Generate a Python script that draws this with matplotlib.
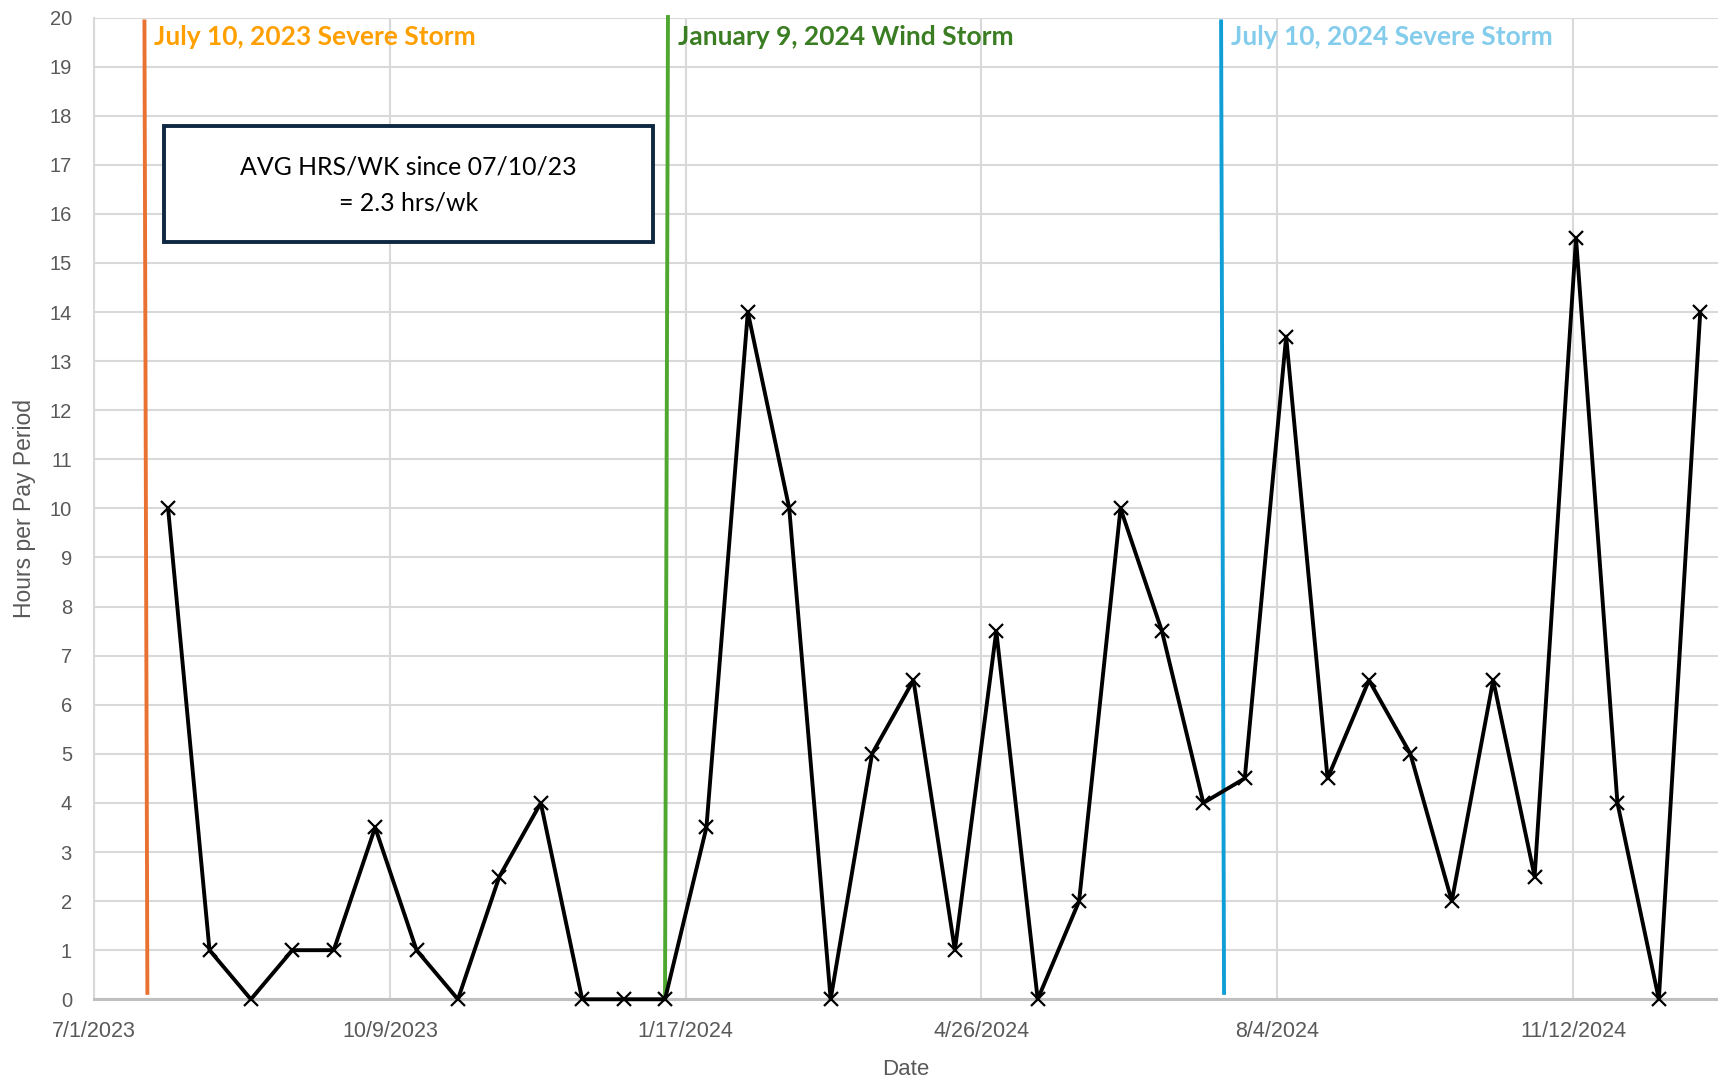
import matplotlib
matplotlib.use("Agg")
import matplotlib.pyplot as plt
from matplotlib.patches import Rectangle
import pandas as pd

# ---------------- data ----------------
pay_dates = ["2023-07-26", "2023-08-09", "2023-08-23", "2023-09-06", "2023-09-20",
             "2023-10-04", "2023-10-18", "2023-11-01", "2023-11-15", "2023-11-29",
             "2023-12-13", "2023-12-27", "2024-01-10", "2024-01-24", "2024-02-07",
             "2024-02-21", "2024-03-06", "2024-03-20", "2024-04-03", "2024-04-17",
             "2024-05-01", "2024-05-15", "2024-05-29", "2024-06-12", "2024-06-26",
             "2024-07-10", "2024-07-24", "2024-08-07", "2024-08-21", "2024-09-04",
             "2024-09-18", "2024-10-02", "2024-10-16", "2024-10-30", "2024-11-13",
             "2024-11-27", "2024-12-11", "2024-12-25"]
hours = [10, 1, 0, 1, 1, 3.5, 1, 0, 2.5, 4,
         0, 0, 0, 3.5, 14, 10, 0, 5, 6.5, 1,
         7.5, 0, 2, 10, 7.5, 4, 4.5, 13.5, 4.5, 6.5,
         5, 2, 6.5, 2.5, 15.5, 4, 0, 14]

x_tick_dates = ["2023-07-01", "2023-10-09", "2024-01-17", "2024-04-26", "2024-08-04", "2024-11-12"]
x_tick_labels = ["7/1/2023", "10/9/2023", "1/17/2024", "4/26/2024", "8/4/2024", "11/12/2024"]
y_ticks = list(range(0, 21))

storm_labels = ["July 10, 2023 Severe Storm", "January 9, 2024 Wind Storm", "July 10, 2024 Severe Storm"]
# hand-drawn marker lines as placed in the source chart (top date, bottom date)
storm_line_top = ["2023-07-18", "2024-01-11", "2024-07-16"]
storm_line_bottom = ["2023-07-19", "2024-01-10", "2024-07-17"]
storm_line_colors = ["#E97132", "#4EA72E", "#0F9ED5"]
storm_text_colors = ["#FFA000", "#3B7D23", "#84CCEC"]

avg_lines = ["AVG HRS/WK since 07/10/23", "= 2.3 hrs/wk"]

# ---------------- figure ----------------
plt.rcParams["font.family"] = ["Liberation Sans", "DejaVu Sans"]
head_font = ["Lato", "Liberation Sans", "DejaVu Sans"]

fig = plt.figure(figsize=(17.18, 10.81), dpi=100)
ax = fig.add_axes([0.0548, 0.0756, 0.9452, 0.9082])

d = pd.to_datetime(pay_dates)
ax.plot(d, hours, color="black", lw=2.8, marker="x", markersize=10,
        markeredgewidth=1.6, zorder=5, clip_on=False)

ax.set_ylim(0, 20)
ax.set_xlim(pd.Timestamp("2023-07-01"), pd.Timestamp("2024-12-31"))
ax.set_yticks(y_ticks)
ax.set_xticks(pd.to_datetime(x_tick_dates))
ax.set_xticklabels(x_tick_labels, fontsize=15.5)

ax.grid(True, color="#D9D9D9", lw=1.5)
ax.set_axisbelow(True)
for s in ["top", "right"]:
    ax.spines[s].set_visible(False)
ax.spines["left"].set_color("#D9D9D9")
ax.spines["left"].set_linewidth(1.5)
ax.spines["bottom"].set_color("#BFBFBF")
ax.spines["bottom"].set_linewidth(2.2)
ax.tick_params(axis="both", length=0, colors="#595959")
ax.tick_params(axis="y", labelsize=14.5, pad=16)
ax.tick_params(axis="x", pad=16)

ax.set_ylabel("Hours per Pay Period", fontsize=16.5, color="#595959", labelpad=10)
ax.set_xlabel("Date", fontsize=16, color="#595959", labelpad=12)

# storm markers
tops = pd.to_datetime(storm_line_top)
bots = pd.to_datetime(storm_line_bottom)
y_top_vals = [19.96, 20.05, 19.96]
y_bot_vals = [0.09, 0.0, 0.09]
for i in range(3):
    ax.plot([tops[i], bots[i]], [y_top_vals[i], y_bot_vals[i]], color=storm_line_colors[i],
            lw=2.8, zorder=4, clip_on=False, solid_capstyle="butt")
    ax.annotate(storm_labels[i], xy=(tops[i], 19.44), xytext=(7, 0), textcoords="offset points",
                ha="left", va="baseline", fontsize=19, fontweight="bold",
                color=storm_text_colors[i], family=head_font, zorder=6)

# average box
ax.add_patch(Rectangle((0.043, 0.7716), 0.301, 0.1182, transform=ax.transAxes,
                       facecolor="white", edgecolor="#0E2841", lw=2.8, zorder=5.5))
for line, yf in zip(avg_lines, [0.8482, 0.8114]):
    ax.text(0.1935, yf, line, transform=ax.transAxes, ha="center", va="center",
            fontsize=17.9, color="black", family=head_font, zorder=6)

fig.savefig("out.png", dpi=100)
